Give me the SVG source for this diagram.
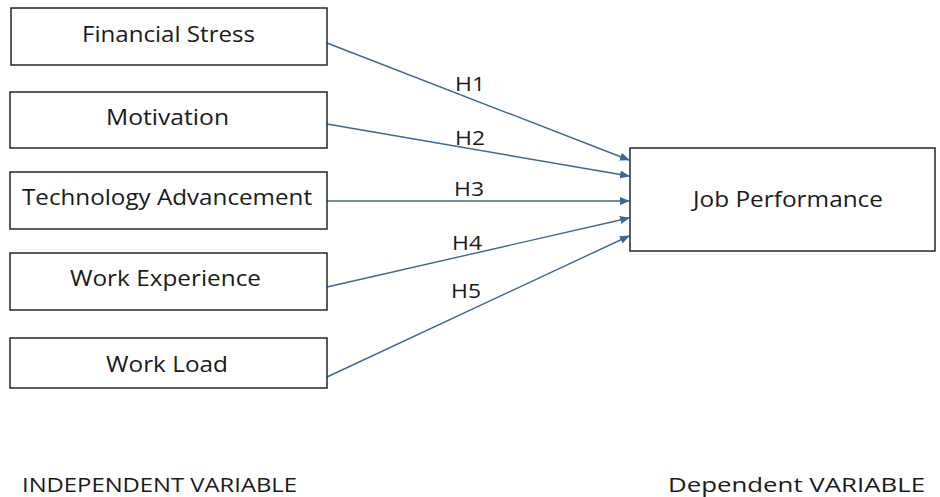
<svg xmlns="http://www.w3.org/2000/svg" width="940" height="497" viewBox="0 0 940 497">
<style>
.box{fill:#fff;stroke:#262626;stroke-width:1.5}
.t{font-family:"Open Sans","Liberation Sans",sans-serif;font-size:21px;fill:#1a1a1a;text-anchor:middle}
.h{font-family:"Open Sans","Liberation Sans",sans-serif;font-size:20px;fill:#1a1a1a}
.b{font-family:"Open Sans","Liberation Sans",sans-serif;font-size:20px;fill:#1a1a1a}
.c{stroke:#3d6891;stroke-width:1.4;fill:none;marker-end:url(#ah)}
</style>
<defs>
<marker id="ah" markerWidth="10" markerHeight="8" refX="9" refY="4" orient="auto" markerUnits="userSpaceOnUse">
<path d="M0,0 L10,4 L0,8 Z" fill="#3d6891"/>
</marker>
</defs>
<rect width="940" height="497" fill="#fff"/>
<g id="connectors">
<line class="c" x1="327" y1="43" x2="629" y2="160"/>
<line class="c" x1="327" y1="124" x2="629" y2="176"/>
<line class="c" x1="327" y1="201" x2="629" y2="201"/>
<line class="c" x1="327" y1="287" x2="629" y2="218"/>
<line class="c" x1="327" y1="377" x2="629" y2="236"/>
<text class="h" x="455" y="91" textLength="30" lengthAdjust="spacingAndGlyphs">H1</text>
<text class="h" x="455" y="145" textLength="30" lengthAdjust="spacingAndGlyphs">H2</text>
<text class="h" x="454" y="196" textLength="30" lengthAdjust="spacingAndGlyphs">H3</text>
<text class="h" x="452" y="250" textLength="30" lengthAdjust="spacingAndGlyphs">H4</text>
<text class="h" x="451" y="298" textLength="30" lengthAdjust="spacingAndGlyphs">H5</text>
</g>
<g id="financial-stress">
<rect class="box" x="11" y="8" width="316" height="57"/>
<text class="t" x="168.5" y="42" textLength="173" lengthAdjust="spacingAndGlyphs">Financial Stress</text>
</g>
<g id="motivation">
<rect class="box" x="10" y="92" width="317" height="56"/>
<text class="t" x="167.5" y="125" textLength="123" lengthAdjust="spacingAndGlyphs">Motivation</text>
</g>
<g id="technology-advancement">
<rect class="box" x="10" y="172" width="317" height="57"/>
<text class="t" x="167" y="205" textLength="290" lengthAdjust="spacingAndGlyphs">Technology Advancement</text>
</g>
<g id="work-experience">
<rect class="box" x="10" y="253" width="317" height="57"/>
<text class="t" x="165.5" y="286" textLength="191" lengthAdjust="spacingAndGlyphs">Work Experience</text>
</g>
<g id="work-load">
<rect class="box" x="10" y="338" width="317" height="50"/>
<text class="t" x="167" y="372" textLength="122" lengthAdjust="spacingAndGlyphs">Work Load</text>
</g>
<g id="job-performance">
<rect class="box" x="630" y="148" width="305" height="103"/>
<text class="t" x="788" y="207" textLength="190" lengthAdjust="spacingAndGlyphs">Job Performance</text>
</g>
<g id="axis-labels">
<text class="b" x="22" y="492" textLength="275" lengthAdjust="spacingAndGlyphs">INDEPENDENT VARIABLE</text>
<text class="b" x="668" y="492" textLength="257" lengthAdjust="spacingAndGlyphs">Dependent VARIABLE</text>
</g>
</svg>
